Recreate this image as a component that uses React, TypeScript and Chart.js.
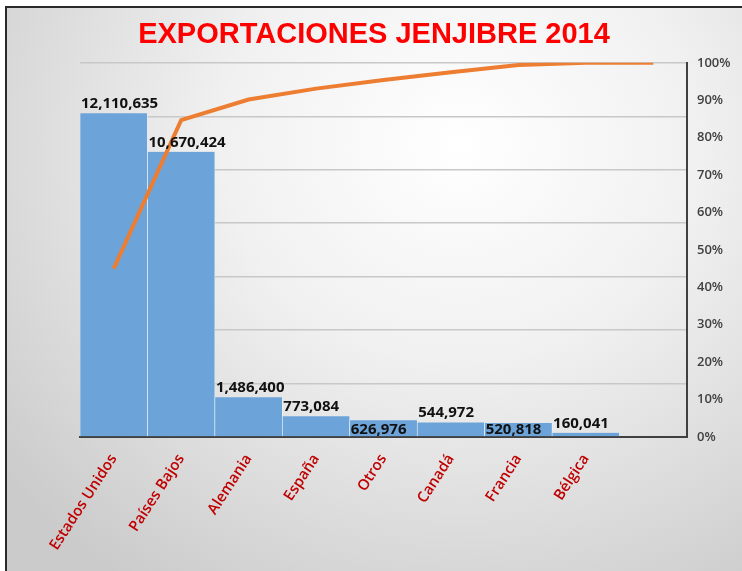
import React, { useEffect, useRef } from "react";
import { Chart, registerables } from "chart.js";

Chart.register(...registerables);

const categories = ["Estados Unidos", "Países Bajos", "Alemania", "España", "Otros", "Canadá", "Francia", "Bélgica", ""];
const exportValues = [12110635, 10670424, 1486400, 773084, 626976, 544972, 520818, 160041, null];
const cumulativePct = [45.0, 84.7, 90.2, 93.1, 95.4, 97.5, 99.4, 100, 100];
const valueLabels = ["12,110,635", "10,670,424", "1,486,400", "773,084", "626,976", "544,972", "520,818", "160,041", ""];
const insideLabelIdx = [4, 6];

const labelPlugin = {
  id: "barLabels",
  afterDatasetsDraw(chart: any) {
    const meta = chart.getDatasetMeta(1);
    const ctx = chart.ctx;
    const bottom = chart.scales.y.getPixelForValue(0);
    ctx.save();
    ctx.font = "bold 15px 'Open Sans'";
    ctx.fillStyle = "#111111";
    ctx.textAlign = "left";
    ctx.textBaseline = "alphabetic";
    meta.data.forEach((el: any, i: number) => {
      const txt = valueLabels[i];
      if (!txt) return;
      const left = el.x - el.width / 2 + 1;
      const y = insideLabelIdx.includes(i) ? bottom - 3 : el.y - 5;
      ctx.fillText(txt, left, y);
    });
    ctx.restore();
  },
};

export default function App() {
  const ref = useRef<HTMLCanvasElement>(null);
  useEffect(() => {
    const chart = new Chart(ref.current!, {
      type: "bar",
      data: {
        labels: categories,
        datasets: [
          {
            type: "line",
            data: cumulativePct,
            yAxisID: "y1",
            borderColor: "#ED7D31",
            borderWidth: 4,
            pointRadius: 0,
            tension: 0,
            order: 0,
          } as any,
          {
            type: "bar",
            data: exportValues,
            yAxisID: "y",
            backgroundColor: "#6ca4d9",
            borderColor: "#ffffff",
            borderWidth: { left: 0.6, right: 0.6, top: 0, bottom: 0 },
            borderSkipped: false,
            barPercentage: 1,
            categoryPercentage: 1,
            order: 1,
          } as any,
        ],
      },
      options: {
        responsive: false,
        animation: false,
        layout: { padding: { left: 6, right: 0, top: 2, bottom: 0 } },
        plugins: {
          legend: { display: false },
          tooltip: { enabled: false },
          title: {
            display: true,
            text: "EXPORTACIONES JENJIBRE 2014",
            color: "#ff0000",
            font: { family: "'Liberation Sans', Arial", size: 29, weight: "bold" },
            padding: { top: 16, bottom: 10 },
          },
        },
        scales: {
          x: {
            grid: { display: false },
            border: { display: true, color: "#404040", width: 2 },
            ticks: {
              color: "#c00000",
              font: { family: "'Open Sans'", size: 15, weight: 600 },
              minRotation: 57,
              maxRotation: 57,
              autoSkip: false,
              padding: 6,
            },
            afterFit: (s: any) => { s.height = 134; },
          },
          y: {
            position: "left",
            min: 0,
            max: 14000000,
            ticks: { display: false, stepSize: 2000000 },
            grid: { color: "#c8c8c8", lineWidth: 1.5, drawTicks: false },
            border: { display: false },
            afterFit: (s: any) => { s.width = 74; },
          },
          y1: {
            position: "right",
            min: 0,
            max: 100,
            ticks: {
              stepSize: 10,
              color: "#404040",
              font: { family: "'Open Sans'", size: 13, weight: 600 },
              padding: 10,
              callback: (v: any) => `${v}%`,
            },
            grid: { drawOnChartArea: false, drawTicks: false },
            border: { display: true, color: "#404040", width: 2 },
            afterFit: (s: any) => { s.width = 55; },
          },
        },
      },
      plugins: [labelPlugin],
    });
    return () => chart.destroy();
  }, []);

  return (
    <div style={{ position: "fixed", left: 0, top: 0, width: 742, height: 571, overflow: "hidden", background: "#ffffff" }}>
      <div
        style={{
          position: "absolute",
          left: 5,
          top: 6,
          width: 780,
          height: 620,
          border: "2px solid #2a2a2a",
          background: "radial-gradient(ellipse 75% 85% at 58% 22%, #ffffff 0%, #f1f1f1 40%, #cbcbcb 100%)",
        }}
      />
      <canvas ref={ref} width={742} height={571} style={{ position: "absolute", left: 0, top: 0 }} />
    </div>
  );
}
